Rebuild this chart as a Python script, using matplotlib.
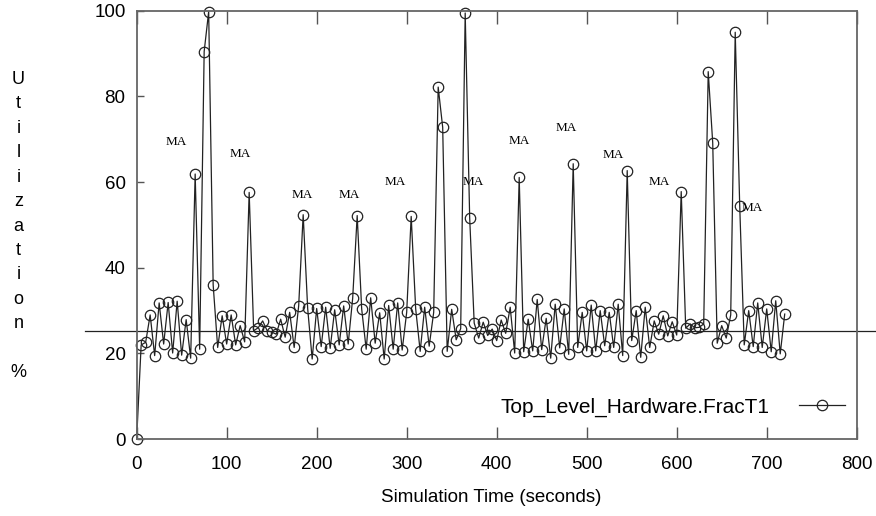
"""
Top_Level_Hardware.FracT1 utilization over simulation time.
"""

import matplotlib
matplotlib.use("Agg")
import matplotlib.pyplot as plt
import numpy as np


# sampled every 5 s, 0 .. 720 s
SAMPLE_STEP = 5
utilization = [
    0, 22, 22.6, 29, 19.5, 31.8, 22.2, 31.9, 20.1, 32.2,
    19.6, 27.9, 18.9, 61.9, 21, 90.5, 99.8, 36, 21.4, 28.8,
    22.2, 29, 22, 26.5, 22.7, 57.6, 25.3, 26, 27.6, 25.3,
    25, 24.5, 28, 23.8, 29.6, 21.4, 31.1, 52.4, 30.5, 18.7,
    30.5, 21.6, 30.8, 21.2, 30.2, 22, 31.1, 22.2, 32.9, 52.2,
    30.4, 21, 33, 22.4, 29.5, 18.7, 31.2, 21, 31.8, 20.8,
    29.6, 52, 30.4, 20.5, 30.8, 21.7, 29.6, 82.2, 72.8, 20.5,
    30.3, 23.2, 25.8, 99.5, 51.6, 27.1, 23.6, 27.3, 24.2, 25.7,
    23, 27.8, 24.7, 30.8, 20.1, 61.1, 20.4, 28, 20.6, 32.6,
    20.9, 28.2, 18.9, 31.5, 21.3, 30.4, 19.8, 64.3, 21.4, 29.6,
    20.6, 31.3, 20.6, 30, 21.8, 29.6, 21.4, 31.5, 19.5, 62.7,
    23, 30, 19.1, 30.8, 21.4, 27.6, 24.5, 28.8, 24.1, 27.4,
    24.3, 57.8, 25.9, 26.9, 26, 26.1, 26.9, 85.8, 69.2, 22.4,
    26.5, 23.6, 29, 95, 54.5, 22, 30, 21.6, 31.8, 21.4,
    30.4, 20.4, 32.3, 19.9, 29.2,
]
mean_level = 25.2

# "MA" annotations (time, utilization)
ma_times = [44, 115, 184, 236, 287, 374, 425, 477, 529, 581, 684]
ma_values = [69.4, 66.5, 57.1, 57.1, 60.1, 60.1, 69.6, 72.7, 66.4, 60.1, 54]

x_ticks = [0, 100, 200, 300, 400, 500, 600, 700, 800]
y_ticks = [0, 20, 40, 60, 80, 100]


def main() -> None:
    plt.rcParams["font.family"] = ["Liberation Sans", "DejaVu Sans"]

    fig = plt.figure(figsize=(8.76, 5.16), dpi=100)
    ax = fig.add_axes([0.156, 0.149, 0.822, 0.830])

    times = np.arange(len(utilization)) * SAMPLE_STEP
    ax.plot(times, utilization, color="#222222", lw=0.9, marker="o",
            markersize=7.5, markerfacecolor="none", markeredgecolor="#222222",
            markeredgewidth=0.9, label="Top_Level_Hardware.FracT1", clip_on=False)

    ax.axhline(mean_level, xmin=-0.072, xmax=1.03, color="#222222", lw=0.9,
               clip_on=False)

    for t, v in zip(ma_times, ma_values):
        ax.text(t, v, "MA", family=["Liberation Serif", "DejaVu Serif"],
                fontsize=9.5, ha="center", va="center")

    ax.set_xlim(0, 800)
    ax.set_ylim(0, 100)
    ax.set_xticks(x_ticks)
    ax.set_yticks(y_ticks)
    ax.tick_params(axis="x", direction="in", top=True, length=9, width=1,
                   color="#555555", labelsize=13.5, pad=12)
    ax.tick_params(axis="y", direction="in", right=False, length=5, width=1,
                   color="#555555", labelsize=13.5, pad=8)
    for spine in ax.spines.values():
        spine.set_color("#666666")
        spine.set_linewidth(1.3)

    fig.text(0.561, 0.035, "Simulation Time (seconds)", fontsize=13.5,
             ha="center", va="center")
    fig.text(0.021, 0.562, "U\nt\ni\nl\ni\nz\na\nt\ni\no\nn\n\n%", fontsize=13,
             ha="center", va="center", linespacing=1.57)

    ax.legend(loc="center right", bbox_to_anchor=(0.995, 0.075),
              markerfirst=False, frameon=False, fontsize=15,
              handlelength=2.2, handletextpad=1.4, borderaxespad=0)

    fig.savefig("out.png", dpi=100)
    plt.close(fig)


if __name__ == "__main__":
    main()
